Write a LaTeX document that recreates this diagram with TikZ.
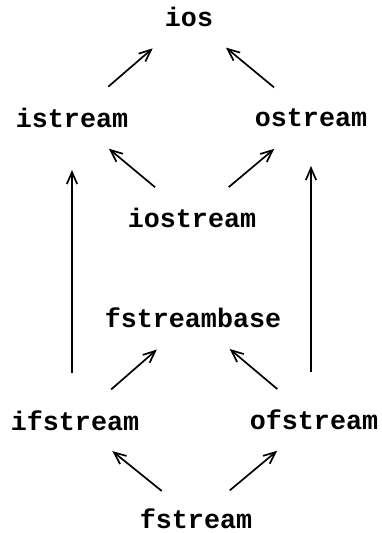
\documentclass[tikz,border=0pt]{standalone}
\usepackage{fontspec}
\newfontfamily\classfont{Liberation Mono}
\usetikzlibrary{arrows.meta}

\begin{document}
\begin{tikzpicture}[
    cls/.style={font=\classfont\bfseries\fontsize{19}{23}\selectfont, inner sep=0pt},
    derive/.style={-{Straight Barb[length=3mm,width=2.6mm]}, line width=1.2pt,
      shorten <=1.2cm, shorten >=1.2cm}]
  \useasboundingbox (0,0) rectangle (9.55,13.325);

  % base classes
  \node[cls] (ios) at (4.725,12.9) {ios};
  \node[cls] (istream) at (1.8,10.375) {istream};
  \node[cls] (ostream) at (7.775,10.375) {ostream};
  \node[cls] (iostream) at (4.8,7.875) {iostream};

  % file streams
  \node[cls] (fstreambase) at (4.825,5.375) {fstreambase};
  \node[cls] (ifstream) at (1.875,2.8) {ifstream};
  \node[cls] (ofstream) at (7.85,2.825) {ofstream};
  \node[cls] (fstream) at (4.9,0.36) {fstream};

  \draw[derive] (istream.center) -- (ios.center);
  \draw[derive] (ostream.center) -- (ios.center);
  \draw[derive] (iostream.center) -- (istream.center);
  \draw[derive] (iostream.center) -- (ostream.center);

  \draw[derive] (ifstream.center) -- (fstreambase.center);
  \draw[derive] (ofstream.center) -- (fstreambase.center);
  \draw[derive, shorten <=1.1cm] (fstream.center) -- (ifstream.center);
  \draw[derive, shorten <=1.1cm] (fstream.center) -- (ofstream.center);

  % long arrows up the sides
  \draw[derive, shorten >=1.3cm] (istream.center |- ifstream.center) -- (istream.center);
  \draw[derive] (ostream.center |- ofstream.center) -- (ostream.center);
\end{tikzpicture}
\end{document}
